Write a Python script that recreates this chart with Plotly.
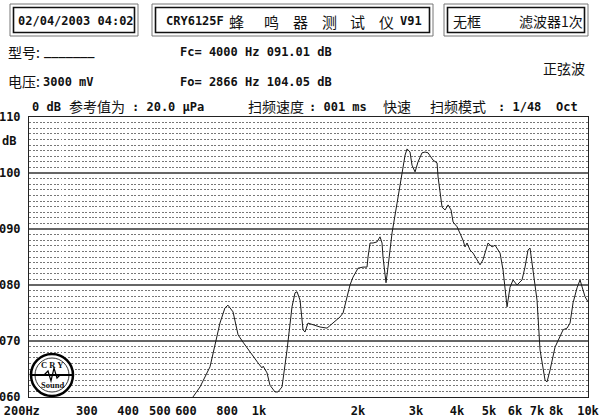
import numpy as np
import plotly.graph_objects as go

# ---------------- data ----------------
freq_hz = [630, 662, 710, 761, 788, 805, 834, 864, 894, 939,
           993, 1021, 1030, 1058, 1080, 1119, 1142, 1175, 1217, 1260,
           1287, 1305, 1333, 1361, 1380, 1409, 1460, 1533, 1610, 1679,
           1764, 1801, 1852, 1891, 1931, 2000, 2071, 2130, 2145, 2176,
           2222, 2285, 2333, 2366, 2382, 2433, 2467, 2538, 2628, 2722,
           2780, 2819, 2878, 2918, 2981, 3044, 3130, 3197, 3265, 3381,
           3477, 3502, 3601, 3677, 3756, 3835, 3890, 4000, 4084, 4170,
           4229, 4289, 4380, 4473, 4697, 4796, 4968, 5110, 5218, 5404,
           5518, 5675, 5794, 5918, 6085, 6301, 6435, 6572, 6665, 6807,
           7000, 7149, 7404, 7508, 7667, 7940, 8222, 8400, 8638, 8820,
           9006, 9262, 9458, 9591, 9795, 10000]
level_db = [60.0, 61.8, 65.4, 73.2, 75.9, 76.4, 75.2, 71.1, 69.8, 68.0,
            66.1, 65.2, 65.5, 64.3, 62.1, 60.9, 60.9, 61.8, 68.4, 76.1,
            78.6, 78.8, 77.3, 72.0, 71.6, 73.2, 72.9, 72.5, 72.3, 73.2,
            74.3, 75.0, 77.7, 80.0, 81.4, 83.0, 83.2, 83.2, 85.0, 87.5,
            87.5, 87.7, 88.6, 87.5, 85.0, 80.4, 83.2, 89.3, 94.6, 100.0,
            103.2, 104.3, 103.75, 101.4, 100.2, 102.0, 103.6, 103.75, 103.6, 102.3,
            101.8, 99.3, 93.9, 93.4, 94.3, 93.4, 91.25, 90.4, 89.3, 88.0,
            86.8, 87.5, 86.25, 85.7, 83.6, 84.5, 87.5, 86.8, 87.1, 85.7,
            82.7, 76.1, 79.6, 80.9, 80.0, 80.9, 83.2, 86.25, 86.6, 82.7,
            77.3, 68.4, 63.0, 62.7, 64.8, 68.9, 70.7, 72.0, 72.3, 73.2,
            76.8, 79.5, 80.9, 79.5, 77.9, 77.0]

x_tick_vals = [200, 300, 400, 500, 600, 800, 1000, 2000, 3000, 4000,
               5000, 6000, 7000, 8000, 10000]
x_tick_text = ["200Hz\u00a0\u00a0", "300", "400", "500", "600", "800", "1k",
               "2k", "3k", "4k", "5k", "6k", "7k", "8k", "10k"]
grid_solid_hz = [300, 400, 500, 600, 800, 1000, 2000, 3000, 4000, 5000, 7000]
grid_dashed_hz = [700, 900, 6000, 8000, 9000]
y_tick_vals = [60, 70, 80, 90, 100, 110]
y_tick_text = ["060", "070", "080", "090", "100", "110"]

# ---------------- layout helpers ----------------
W, H = 600, 420
L, R, T, B = 29, 12, 117, 23
PW, PH = W - L - R, H - T - B


def px(x):
    return (x - L) / PW


def py(y):
    return (H - B - y) / PH


MONO = "DejaVu Sans Mono"
CJK = "Noto Sans CJK SC"

fig = go.Figure()
fig.add_trace(go.Scatter(x=freq_hz, y=level_db, mode="lines",
                         line=dict(color="#1a1a1a", width=1),
                         hoverinfo="skip", showlegend=False))

shapes = []
# blank patch at top-left of grid
shapes.append(dict(type="rect", xref="paper", yref="paper",
                   x0=px(29.5), x1=px(203), y0=py(136), y1=py(117.5),
                   fillcolor="white", line=dict(width=0), layer="between"))
for f in grid_solid_hz:
    shapes.append(dict(type="line", xref="x", yref="paper",
                       x0=np.log10(f), x1=np.log10(f), y0=0, y1=1,
                       line=dict(color="#333", width=1), layer="between"))
for f in grid_dashed_hz:
    shapes.append(dict(type="line", xref="x", yref="paper",
                       x0=np.log10(f), x1=np.log10(f), y0=0, y1=1,
                       line=dict(color="#333", width=1, dash="3px,2px"),
                       layer="between"))

# header boxes (double border)
for (x0, y0, x1, y1) in [(10, 4, 138, 36), (152, 4, 433, 36), (444, 4, 588, 36)]:
    shapes.append(dict(type="rect", xref="paper", yref="paper",
                       x0=px(x0), x1=px(x1), y0=py(y1), y1=py(y0),
                       line=dict(color="#777", width=1), layer="above"))
    shapes.append(dict(type="rect", xref="paper", yref="paper",
                       x0=px(x0 + 3.5), x1=px(x1 - 3.5), y0=py(y1 - 3.5), y1=py(y0 + 3.5),
                       line=dict(color="#111", width=1.6), layer="above"))

# logo
shapes.append(dict(type="circle", xref="paper", yref="paper",
                   x0=px(31), x1=px(73), y0=py(396), y1=py(354),
                   fillcolor="white", line=dict(color="#000", width=2.5), layer="above"))
shapes.append(dict(type="circle", xref="paper", yref="paper",
                   x0=px(35), x1=px(69), y0=py(392), y1=py(358),
                   line=dict(color="#000", width=0.8), layer="above"))
shapes.append(dict(type="line", xref="paper", yref="paper",
                   x0=px(32), x1=px(72), y0=py(375), y1=py(375),
                   line=dict(color="#000", width=2), layer="above"))
shapes.append(dict(type="path", xref="paper", yref="paper",
                   path=(f"M {px(44)},{py(375)} L {px(48)},{py(371)} L {px(51)},{py(381)} "
                         f"L {px(54)},{py(368)} L {px(57)},{py(378)} L {px(60)},{py(375)}"),
                   line=dict(color="#000", width=1.2), layer="above"))

fig.update_layout(shapes=shapes)

ann = []


def txt(s, x, y, size=12, family=MONO, bold=True, anchor="left", color="#111"):
    ann.append(dict(text=s, xref="paper", yref="paper", x=px(x), y=py(y),
                    xanchor=anchor, yanchor="middle", showarrow=False,
                    font=dict(family=family, size=size, color=color,
                              weight="bold" if bold else "normal")))


# header box texts
txt("02/04/2003 04:02", 16, 21)
txt("CRY6125F", 164, 21)
for ch, cx in zip(["蜂", "鸣", "器", "测", "试", "仪"], [236, 271, 300, 329, 357, 386]):
    txt(ch, cx, 21, size=15, family=CJK, bold=False, anchor="center")
txt("V91", 398, 21)
txt("无框", 451, 21, size=14, family=CJK, bold=False)
txt("滤波器1次", 517, 21, size=14, family=CJK, bold=False)

# info lines
txt("型号:", 6, 52, size=14, family=CJK, bold=False)
txt("_______", 42, 52)
txt("Fc= 4000 Hz 091.01 dB", 178, 52)
txt("电压:", 6, 81, size=14, family=CJK, bold=False)
txt("3000 mV", 41, 82)
txt("Fo= 2866 Hz 104.05 dB", 178, 82)
txt("正弦波", 541, 68, size=14, family=CJK, bold=False)

txt("0 dB", 30, 107)
txt("参考值为", 67, 106, size=14, family=CJK, bold=False)
txt(": 20.0 μPa", 130, 107)
txt("扫频速度", 246, 106, size=14, family=CJK, bold=False)
txt(": 001 ms", 307, 107)
txt("快速", 381, 106, size=14, family=CJK, bold=False)
txt("扫频模式", 428, 106, size=14, family=CJK, bold=False)
txt(": 1/48", 496, 107)
txt("Oct", 554, 107)

txt("dB", 0, 141)

# logo texts
txt("C R Y", 52, 365, size=8.5, family="Liberation Serif", bold=True, anchor="center")
txt("Sound", 52, 385, size=8.5, family="Liberation Serif", bold=True, anchor="center")

fig.update_layout(annotations=ann)

fig.update_layout(
    width=W, height=H,
    margin=dict(l=L, r=R, t=T, b=B, pad=0, autoexpand=False),
    paper_bgcolor="white", plot_bgcolor="white",
    showlegend=False,
    xaxis=dict(type="log", range=[np.log10(200), np.log10(10000)],
               tickvals=x_tick_vals, ticktext=x_tick_text, automargin=False,
               showgrid=False, zeroline=False, ticks="",
               ticklabeloverflow="allow",
               showline=True, linecolor="#222", linewidth=1, mirror=True,
               tickfont=dict(family=MONO, size=12, color="#111", weight="bold"),
               ticklabelstandoff=3),
    yaxis=dict(range=[60, 110], tickvals=y_tick_vals, ticktext=y_tick_text,
               automargin=False,
               showgrid=True, gridcolor="#666", gridwidth=1.5,
               zeroline=False, ticks="",
               showline=True, linecolor="#222", linewidth=1, mirror=True,
               tickfont=dict(family=MONO, size=12, color="#111", weight="bold"),
               ticklabelstandoff=5,
               minor=dict(dtick=1, tick0=60, showgrid=True, gridcolor="#777",
                          gridwidth=1, griddash="2px,1.5px")),
)

fig.write_html("out.html", config={"displayModeBar": False},
               post_script="document.body.style.margin='0';document.body.style.padding='0';")
